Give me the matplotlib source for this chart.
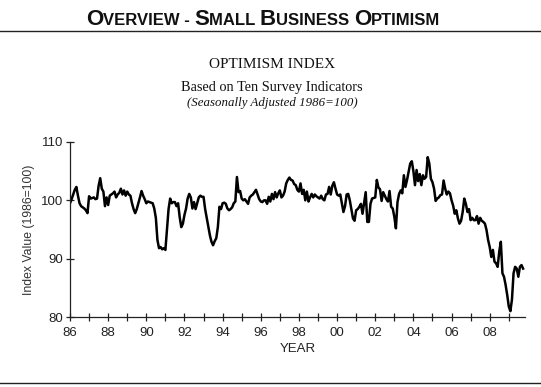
import numpy as np
import matplotlib
matplotlib.use("Agg")
import matplotlib.pyplot as plt
from matplotlib.ticker import FixedLocator

# monthly index values (Jan..Dec)
y1986 = [99.5, 100.2, 101.0, 101.8, 102.3, 100.8, 99.5, 99.0, 98.8, 98.6, 98.3, 97.8]
y1987 = [100.7, 100.3, 100.4, 100.5, 100.2, 100.3, 102.5, 103.8, 102.0, 101.5, 99.0, 100.5]
y1988 = [99.2, 100.8, 101.0, 101.2, 101.5, 100.5, 101.0, 101.3, 102.0, 101.0, 101.7, 100.8]
y1989 = [101.5, 101.0, 100.8, 99.5, 98.5, 97.8, 98.5, 99.5, 100.5, 101.6, 100.8, 100.2]
y1990 = [99.5, 99.8, 99.7, 99.6, 99.5, 98.6, 97.0, 93.2, 91.8, 92.0, 91.6, 91.8]
y1991 = [91.5, 95.0, 98.5, 100.3, 99.5, 99.7, 99.7, 99.0, 99.5, 97.1, 95.4, 96.0]
y1992 = [97.5, 98.6, 100.3, 101.1, 100.5, 98.6, 99.7, 98.5, 99.5, 100.5, 100.8, 100.6]
y1993 = [100.6, 98.5, 97.0, 95.5, 94.0, 92.9, 92.3, 93.0, 93.5, 95.4, 98.9, 98.5]
y1994 = [99.5, 99.6, 99.4, 98.6, 98.3, 98.5, 98.8, 99.5, 99.8, 104.0, 101.4, 101.6]
y1995 = [100.3, 100.0, 100.2, 99.8, 99.4, 100.5, 100.8, 101.0, 101.4, 101.8, 101.0, 100.2]
y1996 = [99.8, 99.7, 100.0, 100.0, 99.4, 100.6, 99.8, 101.1, 100.2, 101.4, 100.5, 101.2]
y1997 = [101.7, 100.5, 100.8, 101.5, 102.9, 103.5, 103.9, 103.5, 103.4, 102.8, 102.6, 101.8]
y1998 = [101.5, 102.9, 101.1, 101.8, 100.0, 101.5, 99.8, 100.5, 101.1, 100.5, 101.0, 100.7]
y1999 = [100.5, 100.3, 100.8, 100.2, 100.0, 101.0, 101.1, 102.3, 101.0, 102.5, 103.1, 102.0]
y2000 = [101.0, 100.8, 101.0, 99.5, 98.0, 99.0, 101.0, 101.1, 100.0, 98.5, 96.9, 96.5]
y2001 = [98.3, 98.5, 98.9, 99.4, 97.7, 99.5, 101.4, 96.3, 96.3, 99.4, 100.3, 100.4]
y2002 = [100.5, 103.5, 102.2, 101.9, 99.9, 101.4, 100.8, 100.2, 99.8, 101.6, 98.9, 98.6]
y2003 = [97.2, 95.2, 99.7, 101.1, 101.7, 101.2, 104.3, 102.3, 103.5, 104.9, 106.3, 106.7]
y2004 = [105.0, 102.6, 105.2, 103.3, 104.5, 102.6, 104.3, 103.7, 104.0, 107.4, 106.3, 103.7]
y2005 = [103.1, 102.0, 99.9, 100.3, 100.5, 100.9, 101.0, 103.4, 102.0, 101.0, 101.5, 101.2]
y2006 = [100.0, 99.1, 97.7, 98.3, 96.9, 96.0, 96.5, 98.0, 100.3, 99.4, 98.0, 98.5]
y2007 = [96.6, 97.0, 96.6, 96.6, 97.3, 96.0, 97.0, 96.5, 96.3, 96.0, 94.9, 93.2]
y2008 = [92.0, 90.3, 91.5, 89.5, 89.2, 88.6, 91.2, 92.9, 87.5, 86.9, 85.5, 83.8]
y2009 = [81.8, 81.0, 83.0, 87.5, 88.6, 88.3, 86.9, 88.6, 88.9, 88.3]

all_years = [y1986, y1987, y1988, y1989, y1990, y1991, y1992, y1993, y1994, y1995,
             y1996, y1997, y1998, y1999, y2000, y2001, y2002, y2003, y2004, y2005,
             y2006, y2007, y2008, y2009]
values = np.concatenate(all_years)
t = 1986 + np.arange(len(values)) / 12.0

even_years = list(range(1986, 2010, 2))
tick_labels = ["%02d" % (y % 100) for y in even_years]

plt.rcParams["font.family"] = ["Liberation Sans", "DejaVu Sans"]

W, H = 541, 387
fig = plt.figure(figsize=(W / 100, H / 100), dpi=100)
ax = fig.add_axes([70 / W, 1 - 317 / H, (525 - 70) / W, (317 - 142) / H])

ax.plot(t, values, color="black", lw=1.8, solid_joinstyle="round")
ax.set_xlim(1986, 2009.85)
ax.set_ylim(80, 110)
ax.yaxis.set_major_locator(FixedLocator([80, 90, 100, 110]))
ax.xaxis.set_major_locator(FixedLocator(even_years))
ax.xaxis.set_minor_locator(FixedLocator(list(range(1987, 2010, 2))))
ax.set_xticklabels(tick_labels)
for s in ["top", "right"]:
    ax.spines[s].set_visible(False)
for s in ["left", "bottom"]:
    ax.spines[s].set_linewidth(0.9)
    ax.spines[s].set_color("#222222")
ax.tick_params(axis="both", which="both", direction="inout", length=6, width=0.9,
               color="#222222", labelsize=9.5, labelcolor="#222222", pad=2)
ax.tick_params(axis="x", which="major", pad=4)
ax.set_xlabel("YEAR", fontsize=9.5, color="#222222", labelpad=3)
ax.set_ylabel("Index Value (1986=100)", fontsize=8.8, color="#333333", labelpad=4)

# headings
fig.text(272 / W, 1 - 65 / H, "OPTIMISM INDEX", family="Liberation Serif",
         fontsize=11, ha="center", va="center", color="#111111")
fig.text(272 / W, 1 - 88 / H, "Based on Ten Survey Indicators", family="Liberation Serif",
         fontsize=10.3, ha="center", va="center", color="#111111")
fig.text(272 / W, 1 - 103 / H, "(Seasonally Adjusted 1986=100)", family="Liberation Serif",
         style="italic", fontsize=9.3, ha="center", va="center", color="#111111")

# small caps page title
pieces = [("O", 16), ("VERVIEW - ", 12), ("S", 16), ("MALL ", 12), ("B", 16),
          ("USINESS ", 12), ("O", 16), ("PTIMISM", 12)]
renderer = fig.canvas.get_renderer()
texts = []
for s, fs in pieces:
    tx = fig.text(0, 1 - 25 / H, s, fontsize=fs, fontweight="bold", ha="left",
                  va="baseline", color="#111111")
    texts.append(tx)
widths = [tx.get_window_extent(renderer).width for tx in texts]
x = 263 - sum(widths) / 2
for tx, w in zip(texts, widths):
    tx.set_x(x / W)
    x += w

fig.add_artist(plt.Line2D([0, 1], [1 - 31 / H, 1 - 31 / H], color="#222222", lw=1))
fig.add_artist(plt.Line2D([0, 1], [1 - 383 / H, 1 - 383 / H], color="#222222", lw=1))

fig.savefig("out.png", dpi=100)
